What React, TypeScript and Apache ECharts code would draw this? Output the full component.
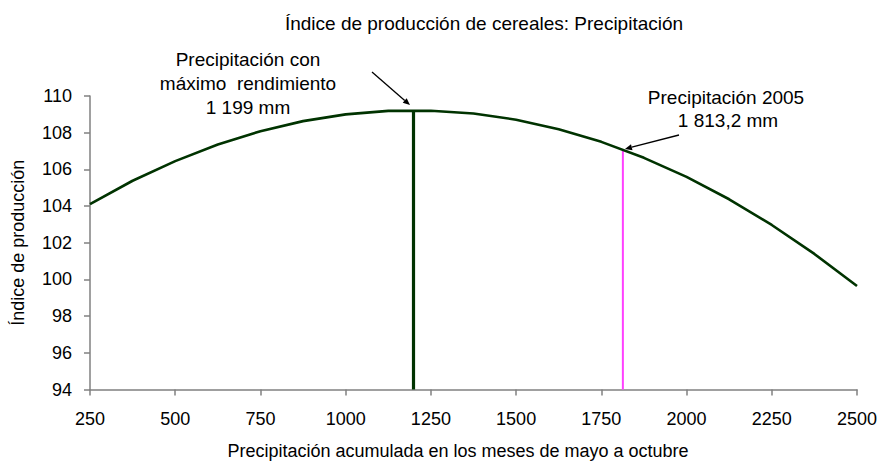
import React, { useEffect, useRef } from "react";
import * as echarts from "echarts";

const precip = [250, 375, 500, 625, 750, 875, 1000, 1125, 1250, 1375, 1500, 1625, 1750, 1875, 2000, 2125, 2250, 2375, 2500];
const indice = [104.1, 105.38, 106.45, 107.36, 108.08, 108.63, 109.0, 109.19, 109.2, 109.05, 108.71, 108.19, 107.5, 106.63, 105.59, 104.37, 102.97, 101.39, 99.64];
const maxX = 1199;
const maxY = 109.22;
const obsX = 1813.2;
const obsY = 107.08;
const yMin = 94;
const xTicks = [250, 2500, 250]; // min, max, interval
const yTicks = [94, 110, 2];

const FONT = "'Liberation Sans', Arial, sans-serif";

function arrow(x1: number, y1: number, x2: number, y2: number) {
  const dx = x2 - x1, dy = y2 - y1;
  const len = Math.sqrt(dx * dx + dy * dy);
  const ux = dx / len, uy = dy / len;
  const hl = 7, hw = 3;
  const bx = x2 - ux * hl, by = y2 - uy * hl;
  return [
    { type: "line", shape: { x1, y1, x2: bx, y2: by }, style: { stroke: "#000", lineWidth: 1.3 } },
    {
      type: "polygon",
      shape: { points: [[x2, y2], [bx - uy * hw, by + ux * hw], [bx + uy * hw, by - ux * hw]] },
      style: { fill: "#000" },
    },
  ];
}

export default function App() {
  const ref = useRef<HTMLDivElement>(null);
  useEffect(() => {
    document.body.style.margin = "0";
    const chart = echarts.init(ref.current!, null, { renderer: "svg" });
    const txt = (x: number, y: number, text: string, size = 19) => ({
      type: "text",
      x,
      y,
      style: { text, font: `${size}px ${FONT}`, fill: "#000", textAlign: "center", textVerticalAlign: "middle" },
    });
    chart.setOption({
      animation: false,
      backgroundColor: "#fff",
      graphic: [
        txt(484, 23, "Índice de producción de cereales: Precipitación", 19),
        txt(248, 59, "Precipitación con"),
        txt(248, 83, "máximo  rendimiento"),
        txt(248, 107, "1 199 mm"),
        txt(726, 97, "Precipitación 2005"),
        txt(728, 120, "1 813,2 mm"),
        txt(458, 451, "Precipitación acumulada en los meses de mayo a octubre", 18),
        ...arrow(372, 72, 410, 105),
        ...arrow(679, 135, 625, 149),
      ],
      grid: { left: 90, right: 24, top: 96, bottom: 72.5 },
      xAxis: {
        type: "value",
        min: xTicks[0],
        max: xTicks[1],
        interval: xTicks[2],
        axisLine: { lineStyle: { color: "#808080", width: 1.5 } },
        axisTick: { show: true, length: 6, lineStyle: { color: "#808080", width: 1.5 } },
        axisLabel: { color: "#000", fontFamily: FONT, fontSize: 18, margin: 20, formatter: (v: number) => String(v) },
        splitLine: { show: false },
      },
      yAxis: {
        type: "value",
        min: yTicks[0],
        max: yTicks[1],
        interval: yTicks[2],
        name: "Índice de producción",
        nameLocation: "middle",
        nameGap: 63,
        nameTextStyle: { color: "#000", fontFamily: FONT, fontSize: 18 },
        axisLine: { show: true, lineStyle: { color: "#808080", width: 1.5 } },
        axisTick: { show: true, length: 6, lineStyle: { color: "#808080", width: 1.5 } },
        axisLabel: { color: "#000", fontFamily: FONT, fontSize: 18, margin: 18, formatter: (v: number) => String(v) },
        splitLine: { show: false },
      },
      series: [
        {
          type: "line",
          data: precip.map((p, i) => [p, indice[i]]),
          symbol: "none",
          lineStyle: { color: "#003300", width: 2.6 },
          z: 3,
        },
        {
          type: "line",
          data: [[maxX, yMin], [maxX, maxY]],
          symbol: "none",
          lineStyle: { color: "#003300", width: 3.2 },
          z: 4,
        },
        {
          type: "line",
          data: [[obsX, yMin], [obsX, obsY]],
          symbol: "none",
          lineStyle: { color: "#FF40FF", width: 2 },
          z: 2,
        },
      ],
    });
    return () => chart.dispose();
  }, []);
  return <div ref={ref} style={{ width: 881, height: 462 }} />;
}
